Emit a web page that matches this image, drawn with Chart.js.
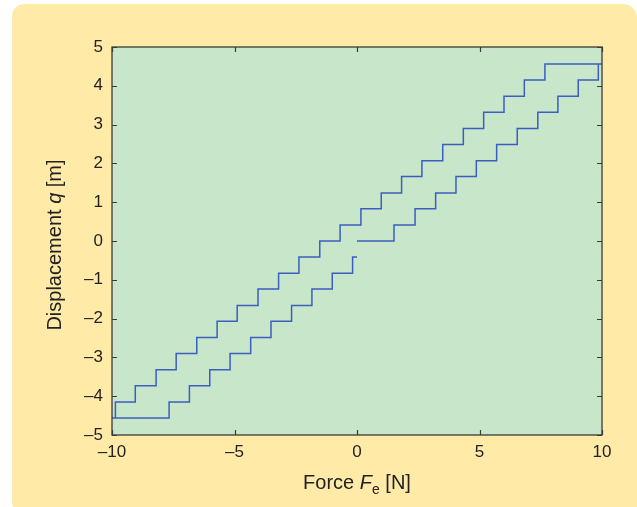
<!DOCTYPE html>
<html>
<head>
<meta charset="utf-8">
<script src="https://cdn.jsdelivr.net/npm/chart.js@4/dist/chart.umd.min.js"></script>
<style>
  html, body { margin: 0; padding: 0; background: #ffffff; }
  #panel { position: absolute; left: 12px; top: 4px; width: 625px; height: 503px;
           background: #FFEAA8; border-radius: 12px 14px 0 3px; }
  #wrap { position: absolute; left: 0; top: 0; width: 637px; height: 507px; }
</style>
</head>
<body>
<div id="panel"></div>
<div id="wrap"><canvas id="c" width="637" height="507"></canvas></div>
<script>
// Initial loading from F = 0 up to F = 10 (force where q jumps, new level of q)
const loadForce = [0, 1.51, 2.37, 3.21, 4.04, 4.87, 5.70, 6.54, 7.38, 8.20, 9.03, 9.85, 10];
const loadDisp  = [0, 0.41, 0.83, 1.24, 1.66, 2.07, 2.49, 2.90, 3.32, 3.73, 4.15, 4.56, 4.56];
// Unloading from F = 10 down to F = -10
const unloadForce = [7.67, 6.83, 6.00, 5.17, 4.34, 3.50, 2.65, 1.82, 0.99, 0.16, -0.69, -1.52,
                     -2.37, -3.20, -4.04, -4.89, -5.71, -6.54, -7.38, -8.20, -9.05, -9.86, -10];
const unloadDisp  = [4.15, 3.73, 3.32, 2.90, 2.49, 2.07, 1.66, 1.24, 0.83, 0.41, 0, -0.41,
                     -0.83, -1.24, -1.66, -2.07, -2.49, -2.90, -3.32, -3.73, -4.15, -4.56, -4.56];
// Reloading from F = -10 back to F = 0
const reloadForce = [-7.67, -6.84, -6.01, -5.18, -4.34, -3.51, -2.67, -1.84, -1.01, -0.18, 0];
const reloadDisp  = [-4.15, -3.73, -3.32, -2.90, -2.49, -2.07, -1.66, -1.24, -0.83, -0.41, -0.41];

const xTicks = [-10, -5, 0, 5, 10];
const yTicks = [-5, -4, -3, -2, -1, 0, 1, 2, 3, 4, 5];

const forces = loadForce.concat(unloadForce, reloadForce);
const disps  = loadDisp.concat(unloadDisp, reloadDisp);
const points = forces.map((f, i) => ({ x: f, y: disps[i] }));

const fmt = v => (v < 0 ? '\u2013' + Math.abs(v) : String(v));
const FONT = '"Liberation Sans", Arial, Helvetica, sans-serif';
const TXT = '#222222';

const framePlugin = {
  id: 'frame',
  beforeDatasetsDraw(chart) {
    const { ctx, chartArea: a } = chart;
    ctx.save();
    ctx.fillStyle = '#C8E6CA';
    ctx.fillRect(a.left, a.top, a.right - a.left, a.bottom - a.top);
    ctx.restore();
  },
  afterDatasetsDraw(chart) {
    const { ctx, chartArea: a, scales } = chart;
    const L = 5;
    ctx.save();
    ctx.strokeStyle = '#3a3a3a';
    ctx.lineWidth = 1.2;
    ctx.beginPath();
    xTicks.forEach(v => {
      const px = Math.round(scales.x.getPixelForValue(v)) + 0.5;
      ctx.moveTo(px, a.bottom); ctx.lineTo(px, a.bottom - L);
      ctx.moveTo(px, a.top); ctx.lineTo(px, a.top + L);
    });
    yTicks.forEach(v => {
      const py = Math.round(scales.y.getPixelForValue(v)) + 0.5;
      ctx.moveTo(a.left, py); ctx.lineTo(a.left + L, py);
      ctx.moveTo(a.right, py); ctx.lineTo(a.right - L, py);
    });
    ctx.stroke();
    ctx.lineWidth = 1.3;
    ctx.strokeRect(a.left, a.top, a.right - a.left, a.bottom - a.top);
    ctx.restore();
  },
  afterDraw(chart) {
    const { ctx, chartArea: a } = chart;
    ctx.save();
    ctx.fillStyle = TXT;
    ctx.textBaseline = 'alphabetic';
    // X title: Force F_e [N]
    const size = 20;
    const parts = [
      { t: 'Force ', f: `${size}px ${FONT}`, dy: 0 },
      { t: 'F', f: `italic ${size}px ${FONT}`, dy: 0 },
      { t: 'e', f: `${Math.round(size * 0.7)}px ${FONT}`, dy: 5 },
      { t: ' [N]', f: `${size}px ${FONT}`, dy: 0 }
    ];
    let w = 0;
    parts.forEach(p => { ctx.font = p.f; p.w = ctx.measureText(p.t).width; w += p.w; });
    let x = (a.left + a.right) / 2 - w / 2;
    const by = 489;
    parts.forEach(p => { ctx.font = p.f; ctx.fillText(p.t, x, by + p.dy); x += p.w; });
    // Y title: Displacement q [m]
    const yparts = [
      { t: 'Displacement ', f: `${size}px ${FONT}` },
      { t: 'q', f: `italic ${size}px ${FONT}` },
      { t: ' [m]', f: `${size}px ${FONT}` }
    ];
    let yw = 0;
    yparts.forEach(p => { ctx.font = p.f; p.w = ctx.measureText(p.t).width; yw += p.w; });
    ctx.translate(61, (a.top + a.bottom) / 2 + 4);
    ctx.rotate(-Math.PI / 2);
    let xx = -yw / 2;
    yparts.forEach(p => { ctx.font = p.f; ctx.fillText(p.t, xx, 0); xx += p.w; });
    ctx.restore();
  }
};

new Chart(document.getElementById('c'), {
  type: 'scatter',
  data: {
    datasets: [{
      data: points,
      showLine: true,
      stepped: 'before',
      borderColor: '#3B5EC0',
      borderWidth: 1.5,
      pointRadius: 0,
      fill: false
    }]
  },
  options: {
    responsive: false,
    animation: false,
    devicePixelRatio: 1,
    layout: { padding: { left: 12, right: 35, top: 47, bottom: 0 } },
    plugins: { legend: { display: false }, tooltip: { enabled: false } },
    scales: {
      x: {
        type: 'linear', min: -10, max: 10,
        afterBuildTicks: s => { s.ticks = xTicks.map(v => ({ value: v })); },
        afterFit: s => { s.height = 72; },
        grid: { display: false, drawTicks: false },
        border: { display: false },
        ticks: { padding: 7, color: TXT, font: { family: FONT, size: 17 }, callback: fmt, maxRotation: 0 }
      },
      y: {
        type: 'linear', min: -5, max: 5,
        afterBuildTicks: s => { s.ticks = yTicks.map(v => ({ value: v })); },
        afterFit: s => { s.width = 100; },
        grid: { display: false, drawTicks: false },
        border: { display: false },
        ticks: { padding: 9, color: TXT, font: { family: FONT, size: 17 }, callback: fmt }
      }
    }
  },
  plugins: [framePlugin]
});
</script>
</body>
</html>
